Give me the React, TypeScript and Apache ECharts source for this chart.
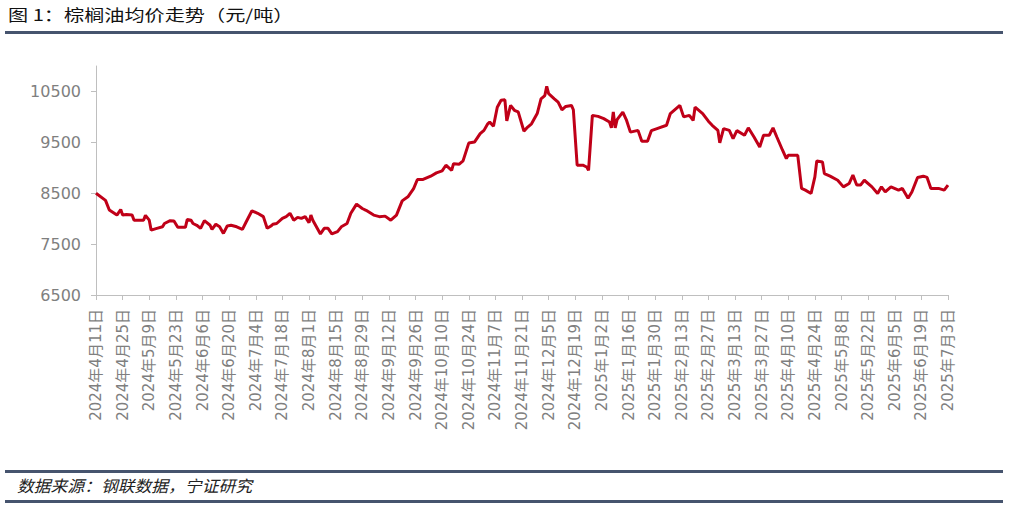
import React, { useEffect, useRef } from "react";
import * as echarts from "echarts";

const titleText = "图 1：棕榈油均价走势（元/吨）";
const sourceText = "数据来源：钢联数据，宁证研究";
const startDate = [2024, 4, 11];
const endDate = [2025, 7, 3];
const yTickValues = [6500, 7500, 8500, 9500, 10500];

const sampleDates = [
  "2024-04-11","2024-04-16","2024-04-18","2024-04-22","2024-04-24","2024-04-25","2024-04-27","2024-04-30",
  "2024-05-01","2024-05-06","2024-05-07","2024-05-09","2024-05-10","2024-05-13","2024-05-16","2024-05-17",
  "2024-05-20","2024-05-22","2024-05-24","2024-05-28","2024-05-29","2024-05-31","2024-06-01","2024-06-03",
  "2024-06-05","2024-06-07","2024-06-10","2024-06-11","2024-06-13","2024-06-15","2024-06-17","2024-06-19",
  "2024-06-21","2024-06-24","2024-06-27","2024-06-29","2024-07-02","2024-07-05","2024-07-08","2024-07-10",
  "2024-07-12","2024-07-13","2024-07-15","2024-07-18","2024-07-20","2024-07-22","2024-07-24","2024-07-26",
  "2024-07-28","2024-07-30","2024-08-01","2024-08-02","2024-08-03","2024-08-07","2024-08-09","2024-08-11",
  "2024-08-13","2024-08-16","2024-08-18","2024-08-21","2024-08-23","2024-08-26","2024-08-29","2024-08-31",
  "2024-09-04","2024-09-07","2024-09-10","2024-09-13","2024-09-16","2024-09-19","2024-09-22","2024-09-25",
  "2024-09-27","2024-09-30","2024-10-04","2024-10-07","2024-10-10","2024-10-12","2024-10-15","2024-10-16",
  "2024-10-19","2024-10-21","2024-10-24","2024-10-27","2024-10-30","2024-11-01","2024-11-03","2024-11-04",
  "2024-11-06","2024-11-08","2024-11-10","2024-11-12","2024-11-13","2024-11-15","2024-11-17","2024-11-19",
  "2024-11-22","2024-11-24","2024-11-26","2024-11-29","2024-12-01","2024-12-03","2024-12-04","2024-12-05",
  "2024-12-08","2024-12-10","2024-12-12","2024-12-14","2024-12-17","2024-12-18","2024-12-20","2024-12-23",
  "2024-12-25","2024-12-26","2024-12-28","2024-12-31","2025-01-03","2025-01-06","2025-01-07","2025-01-08",
  "2025-01-09","2025-01-10","2025-01-13","2025-01-15","2025-01-17","2025-01-21","2025-01-23","2025-01-26",
  "2025-01-28","2025-01-31","2025-02-05","2025-02-07","2025-02-12","2025-02-14","2025-02-17","2025-02-19",
  "2025-02-20","2025-02-24","2025-02-27","2025-03-01","2025-03-04","2025-03-05","2025-03-07","2025-03-10",
  "2025-03-12","2025-03-14","2025-03-18","2025-03-20","2025-03-23","2025-03-26","2025-03-28","2025-03-31",
  "2025-04-02","2025-04-04","2025-04-07","2025-04-09","2025-04-10","2025-04-15","2025-04-17","2025-04-19",
  "2025-04-22","2025-04-24","2025-04-25","2025-04-28","2025-04-29","2025-05-02","2025-05-06","2025-05-09",
  "2025-05-12","2025-05-14","2025-05-16","2025-05-18","2025-05-20","2025-05-24","2025-05-27","2025-05-29",
  "2025-05-31","2025-06-03","2025-06-07","2025-06-09","2025-06-12","2025-06-14","2025-06-17","2025-06-20",
  "2025-06-22","2025-06-24","2025-06-28","2025-07-01","2025-07-03",
];

const sampleValues = [
  8500, 8360, 8170, 8070, 8180, 8070, 8080, 8070,
  7970, 7970, 8065, 7970, 7775, 7810, 7840, 7905,
  7960, 7955, 7830, 7830, 7985, 7970, 7905, 7870,
  7810, 7960, 7870, 7790, 7890, 7840, 7710, 7855,
  7870, 7840, 7790, 7940, 8155, 8105, 8040, 7810,
  7855, 7890, 7905, 8005, 8040, 8105, 7970, 8025,
  8005, 8040, 7920, 8070, 7970, 7700, 7810, 7810,
  7700, 7745, 7840, 7905, 8105, 8285, 8200, 8165,
  8070, 8040, 8050, 7970, 8070, 8350, 8430, 8590,
  8770, 8770, 8835, 8900, 8940, 9050, 8950, 9080,
  9070, 9135, 9485, 9505, 9670, 9735, 9865, 9900,
  9815, 10190, 10325, 10335, 9920, 10225, 10130, 10100,
  9720, 9800, 9865, 10065, 10355, 10420, 10600, 10455,
  10355, 10290, 10140, 10205, 10225, 10140, 9050, 9050,
  9015, 8950, 10030, 10010, 9965, 9900, 9785, 10095,
  9785, 9945, 10095, 9930, 9700, 9735, 9520, 9520,
  9730, 9770, 9835, 10065, 10225, 10000, 10030, 9930,
  10190, 10065, 9915, 9835, 9735, 9490, 9770, 9735,
  9575, 9730, 9640, 9785, 9605, 9410, 9640, 9640,
  9785, 9605, 9345, 9180, 9245, 9245, 8595, 8560,
  8495, 8820, 9135, 9115, 8885, 8835, 8755, 8625,
  8690, 8855, 8660, 8660, 8755, 8625, 8495, 8625,
  8525, 8625, 8560, 8595, 8400, 8525, 8810, 8835,
  8810, 8595, 8595, 8560, 8660,
];

const DAY = 86400000;
const startMs = Date.UTC(startDate[0], startDate[1] - 1, startDate[2]);
const endMs = Date.UTC(endDate[0], endDate[1] - 1, endDate[2]);
const dayCount = Math.round((endMs - startMs) / DAY) + 1;

const categories: string[] = [];
for (let i = 0; i < dayCount; i++) {
  const d = new Date(startMs + i * DAY);
  categories.push(`${d.getUTCFullYear()}年${d.getUTCMonth() + 1}月${d.getUTCDate()}日`);
}

const seriesData: (number | string)[] = new Array(dayCount).fill("-");
sampleDates.forEach((s, k) => {
  const [y, m, d] = s.split("-").map(Number);
  const idx = Math.round((Date.UTC(y, m - 1, d) - startMs) / DAY);
  if (idx >= 0 && idx < dayCount) seriesData[idx] = sampleValues[k];
});

export default function App() {
  const ref = useRef<HTMLDivElement>(null);
  useEffect(() => {
    if (!ref.current) return;
    const chart = echarts.init(ref.current, null, { renderer: "svg" });
    const ruleColor = "#46546e";
    const axisColor = "#bfbfbf";
    const labelColor = "#7f7f7f";
    chart.setOption({
      animation: false,
      backgroundColor: "#ffffff",
      grid: { left: 96, right: 61, top: 66, bottom: 213, outerBoundsMode: "none", containLabel: false },
      xAxis: {
        type: "category",
        data: categories,
        boundaryGap: false,
        axisLine: { show: true, lineStyle: { color: axisColor, width: 1 } },
        axisTick: { show: true, interval: 13, length: 5, lineStyle: { color: axisColor } },
        axisLabel: {
          interval: 13,
          rotate: 90,
          margin: 14,
          color: labelColor,
          fontSize: 15,
          fontFamily: "DejaVu Sans, Noto Sans CJK SC, sans-serif",
        },
        splitLine: { show: false },
      },
      yAxis: {
        type: "value",
        min: 6500,
        max: 11000,
        axisLine: { show: true, lineStyle: { color: axisColor, width: 1 } },
        axisTick: { show: true, length: 5, customValues: yTickValues, lineStyle: { color: axisColor } },
        axisLabel: {
          customValues: yTickValues,
          formatter: (v: number) => String(v),
          margin: 15,
          color: labelColor,
          fontSize: 16,
          fontFamily: "DejaVu Sans, sans-serif",
        },
        splitLine: { show: false },
      },
      series: [
        {
          type: "line",
          data: seriesData,
          connectNulls: true,
          showSymbol: false,
          symbol: "none",
          lineStyle: { color: "#c00018", width: 3 },
          itemStyle: { color: "#c00018" },
        },
      ],
      graphic: [
        {
          type: "text",
          x: 8,
          y: 6,
          scaleX: 1.26,
          style: {
            text: titleText,
            fill: "#111111",
            font: '16px "Noto Sans CJK SC", sans-serif',
          },
        },
        { type: "rect", shape: { x: 5, y: 31, width: 998, height: 3 }, style: { fill: ruleColor } },
        { type: "rect", shape: { x: 5, y: 470, width: 998, height: 3 }, style: { fill: ruleColor } },
        { type: "rect", shape: { x: 5, y: 500, width: 998, height: 3 }, style: { fill: ruleColor } },
        {
          type: "text",
          x: 17,
          y: 477,
          scaleX: 1.05,
          style: {
            text: sourceText,
            fill: "#222222",
            font: 'italic 16px "Noto Sans CJK SC", serif',
          },
        },
      ],
    });
    return () => chart.dispose();
  }, []);
  return (
    <div
      ref={ref}
      style={{ position: "fixed", left: 0, top: 0, width: 1009, height: 508, background: "#fff" }}
    />
  );
}
